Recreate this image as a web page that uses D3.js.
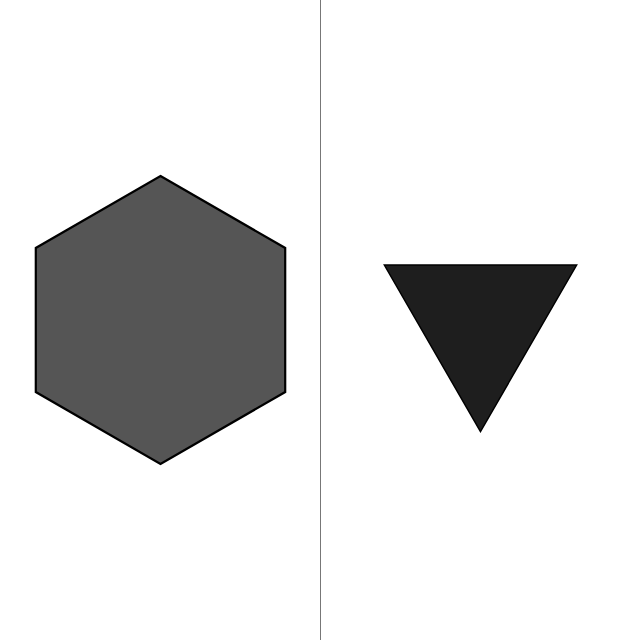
<!DOCTYPE html>
<html><head><meta charset="utf-8">
<script src="https://cdn.jsdelivr.net/npm/d3@7"></script>
<style>html,body{margin:0;padding:0;background:#fff;}svg{display:block;}</style>
</head><body>
<script>
const panels = ["hexagon", "triangle-down"];
const sides = [6, 3];
const radii = [144, 111];
const rotations = [0, 180]; // degrees
const fills = ["#555555", "#1e1e1e"];

const W = 640, H = 640;
const svg = d3.select("body").append("svg").attr("width", W).attr("height", H);

const x = d3.scaleBand().domain(panels).range([0, W]);
const r = d3.scaleLinear().domain([0, 144]).range([0, 144]);

svg.append("line")
  .attr("x1", x(panels[1]) + 0.5).attr("x2", x(panels[1]) + 0.5)
  .attr("y1", 0).attr("y2", H)
  .attr("stroke", "#777").attr("stroke-width", 1);

const line = d3.lineRadial().curve(d3.curveLinearClosed);

panels.forEach((p, i) => {
  const n = sides[i];
  const rot = rotations[i] * Math.PI / 180;
  const pts = d3.range(n).map(k => [rot + k * 2 * Math.PI / n, r(radii[i])]);
  svg.append("path")
    .attr("transform", `translate(${x(p) + x.bandwidth() / 2 + 0.5},${H / 2 + (i === 1 ? 0.5 : 0)})`)
    .attr("d", line(pts))
    .attr("fill", fills[i])
    .attr("stroke", "#000")
    .attr("stroke-width", i === 0 ? 2.2 : 1.5)
    .attr("stroke-linejoin", "miter");
});
</script>
</body></html>
